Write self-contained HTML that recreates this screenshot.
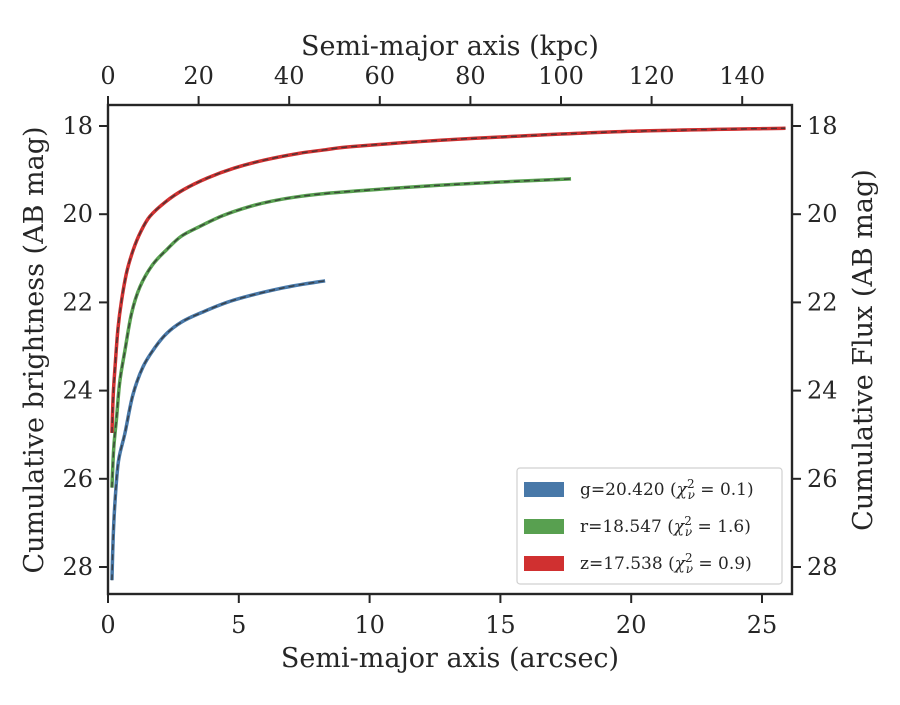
<!DOCTYPE html>
<html><head><meta charset="utf-8"><style>
body{margin:0;background:#fff}
svg{font-family:"DejaVu Serif","Liberation Serif",serif}
</style></head><body>
<svg id="c" width="900" height="700"></svg>
<script>
const gA=[0.15,0.2,0.27,0.4,0.65,0.95,1.34,1.8,2.25,2.8,3.5,4.8,6.7,8.3];
const gM=[28.3,27.3,26.5,25.6,24.96,24.1,23.46,23.02,22.7,22.45,22.25,21.95,21.67,21.51];
const rA=[0.15,0.22,0.33,0.45,0.65,0.9,1.22,1.7,2.25,2.8,3.5,4.4,5.4,6.3,7.3,8.5,10,12.5,15,17.7];
const rM=[26.2,25.3,24.6,23.8,23.08,22.25,21.65,21.15,20.8,20.5,20.28,20.03,19.83,19.7,19.6,19.52,19.45,19.35,19.27,19.2];
const zA=[0.15,0.2,0.27,0.38,0.52,0.72,0.97,1.25,1.6,2.2,2.87,3.8,4.8,6,7.3,8.3,9.25,12,15,20,25.9];
const zM=[24.96,24.1,23.46,22.6,21.95,21.3,20.8,20.4,20.05,19.72,19.45,19.18,18.96,18.77,18.62,18.54,18.47,18.35,18.25,18.12,18.05];
const xTicks=[0,5,10,15,20,25];
const topTicks=[0,20,40,60,80,100,120,140];
const yTicks=[18,20,22,24,26,28];
const legendLabels=["g=20.420","r=18.547","z=17.538"];
const legendChi=["0.1","1.6","0.9"];
const X=a=>108+a*26.16, Y=m=>126+(m-18)*44.1, XT=k=>108+k*4.53;
const s=document.getElementById('c'),NS='http://www.w3.org/2000/svg';
function el(t,at,txt){const e=document.createElementNS(NS,t);for(const k in at)e.setAttribute(k,at[k]);if(txt!=null)e.textContent=txt;s.appendChild(e);return e;}
function path(A,M){const px=A.map(X),py=M.map(Y);let d='M'+px[0]+','+py[0];
for(let i=0;i<px.length-1;i++){const p0=[px[i-1]??px[i],py[i-1]??py[i]],p1=[px[i],py[i]],p2=[px[i+1],py[i+1]],p3=[px[i+2]??px[i+1],py[i+2]??py[i+1]];
d+=' C'+(p1[0]+(p2[0]-p0[0])/6)+','+(p1[1]+(p2[1]-p0[1])/6)+' '+(p2[0]-(p3[0]-p1[0])/6)+','+(p2[1]-(p3[1]-p1[1])/6)+' '+p2[0]+','+p2[1];}return d;}
const series=[[gA,gM,'#4878a8','g'],[rA,rM,'#58a050','r'],[zA,zM,'#d03030','z']];
series.forEach(([A,M,c,n])=>{
let e=el('path',{d:path(A,M),fill:'none',stroke:c,'stroke-width':3.5,'stroke-linejoin':'round'});

e=el('path',{d:path(A,M),fill:'none',stroke:'#333','stroke-width':1.5,'stroke-dasharray':'6,4',opacity:0.8});

});
let f=el('rect',{x:108,y:105,width:684,height:489,fill:'none',stroke:'#262626','stroke-width':2.4});

xTicks.forEach(v=>{el('line',{x1:X(v),x2:X(v),y1:594,y2:603,stroke:'#262626','stroke-width':2});
const t=el('text',{x:X(v),y:633,'text-anchor':'middle','font-size':24,fill:'#262626'},v);});
topTicks.forEach(v=>{el('line',{x1:XT(v),x2:XT(v),y1:105,y2:96,stroke:'#262626','stroke-width':2});
const t=el('text',{x:XT(v),y:84,'text-anchor':'middle','font-size':24,fill:'#262626'},v);});
yTicks.forEach(v=>{el('line',{x1:108,x2:99,y1:Y(v),y2:Y(v),stroke:'#262626','stroke-width':2});
el('line',{x1:792,x2:801,y1:Y(v),y2:Y(v),stroke:'#262626','stroke-width':2});
let t=el('text',{x:93,y:Y(v)+8,'text-anchor':'end','font-size':24,fill:'#262626'},v);
t=el('text',{x:807,y:Y(v)+8,'text-anchor':'start','font-size':24,fill:'#262626'},v);});
let t=el('text',{x:450,y:667,'text-anchor':'middle','font-size':27,fill:'#262626'},'Semi-major axis (arcsec)');
t=el('text',{x:450,y:55,'text-anchor':'middle','font-size':27,fill:'#262626'},'Semi-major axis (kpc)');
t=el('text',{x:43,y:350,'text-anchor':'middle','font-size':27,fill:'#262626',transform:'rotate(-90 43 350)'},'Cumulative brightness (AB mag)');
t=el('text',{x:872,y:350,'text-anchor':'middle','font-size':27,fill:'#262626',transform:'rotate(-90 872 350)'},'Cumulative Flux (AB mag)');
let lg=el('rect',{x:517,y:468,width:265,height:116,rx:3,fill:'#fff',stroke:'#d0d0d0','stroke-width':1.2});
series.forEach(([A,M,c,n],i)=>{const yy=489+i*37;
const r=el('rect',{x:524,y:yy-7,width:40,height:15,fill:c});
const tx=el('text',{x:580,y:yy+6,'font-size':17,fill:'#262626'});
tx.innerHTML=legendLabels[i]+' (<tspan font-style="italic">χ</tspan><tspan font-size="12" dy="-7">2</tspan><tspan font-size="12" font-style="italic" dx="-7" dy="11">ν</tspan><tspan dy="-4"> = '+legendChi[i]+')</tspan>';
});
</script>
</body></html>
